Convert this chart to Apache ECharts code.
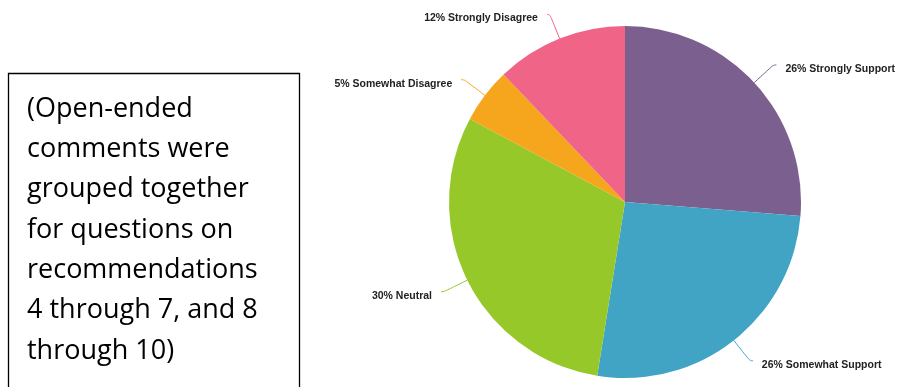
<!DOCTYPE html>
<html>
<head>
<meta charset="utf-8">
<script src="https://cdn.jsdelivr.net/npm/echarts@6/dist/echarts.min.js"></script>
<style>html,body{margin:0;padding:0;background:#fff;}#c{width:899px;height:387px;}</style>
</head>
<body>
<div id="c"></div>
<script>
const categories = ['Strongly Support', 'Somewhat Support', 'Neutral', 'Somewhat Disagree', 'Strongly Disagree'];
const percents = [26, 26, 30, 5, 12];
const colors = ['#7B5F8F', '#41A4C4', '#96C82A', '#F5A61C', '#EF6487'];
const noteLines = ['(Open-ended', 'comments were', 'grouped together', 'for questions on', 'recommendations', '4 through 7, and 8', 'through 10)'];

const chart = echarts.init(document.getElementById('c'), null, {renderer: 'canvas'});
chart.setOption({
  animation: false,
  backgroundColor: '#fff',
  graphic: [
    {type: 'rect', shape: {x: 8.5, y: 73.5, width: 291, height: 330}, style: {fill: '#fff', stroke: '#000', lineWidth: 1.3}},
    {type: 'text', left: 27, top: 89, style: {text: noteLines.join('\n'), fontSize: 27, fontFamily: '"Open Sans", "Noto Sans", sans-serif', lineHeight: 40.3, fill: '#000'}}
  ],
  series: [{
    type: 'pie',
    center: [625, 202],
    radius: 176,
    startAngle: 90,
    clockwise: true,
    avoidLabelOverlap: false,
    data: categories.map((n, i) => ({name: n, value: percents[i], itemStyle: {color: colors[i]}})),
    label: {
      show: true,
      formatter: p => p.value + '% ' + p.name,
      fontSize: 10.5,
      fontWeight: 'bold',
      fontFamily: '"Liberation Sans", Arial, sans-serif',
      color: '#222',
      distanceToLabelLine: 9
    },
    labelLayout: {dy: 4},
    labelLine: {show: true, length: 26, length2: 3, smooth: 0.5, lineStyle: {width: 1}},
    itemStyle: {borderWidth: 0}
  }]
});
</script>
</body>
</html>
